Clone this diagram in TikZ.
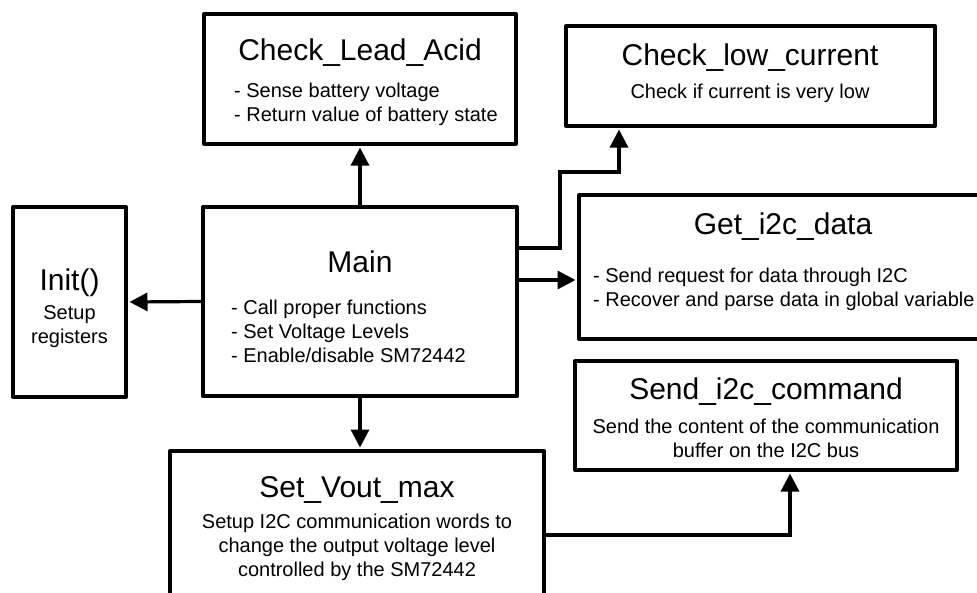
\documentclass[tikz,border=0pt]{standalone}
\usepackage{fontspec}
\setmainfont{Liberation Sans}
\usetikzlibrary{arrows.meta}
\begin{document}
\begin{tikzpicture}[x=1pt,y=-1pt,
  box/.style={draw, line width=4pt, line join=round, inner sep=0pt},
  ttl/.style={font=\fontsize{30}{34}\selectfont, inner sep=0pt},
  txt/.style={font=\fontsize{20}{24}\selectfont, inner sep=0pt, align=center},
  txtl/.style={font=\fontsize{20}{24}\selectfont, inner sep=0pt, align=left, anchor=west},
  conn/.style={line width=3.2pt, shorten >=1.5pt, -{Triangle[length=18pt,width=18pt]}}]
\clip (0,0) rectangle (977,592);
\fill[white] (0,0) rectangle (977,592);
% boxes
\node[box, minimum width=312pt, minimum height=130pt] (cla) at (360,79) {};
\node[box, minimum width=369pt, minimum height=100pt] (clc) at (750.5,76) {};
\node[box, minimum width=411pt, minimum height=144pt] (gid) at (784.5,267) {};
\node[box, minimum width=113pt, minimum height=190pt] (init) at (69.5,302) {};
\node[box, minimum width=314pt, minimum height=189pt] (main) at (360,301.5) {};
\node[box, minimum width=382pt, minimum height=109pt] (sic) at (766,415.5) {};
\node[box, minimum width=374pt, minimum height=159pt] (svm) at (357,530.5) {};
% texts
\node[ttl] (claT) at (360,53) {Check\_Lead\_Acid};
\node[txtl] (claB) at (234,104) {- Sense battery voltage\\- Return value of battery state};
\node[ttl] (clcT) at (750,58) {Check\_low\_current};
\node[txt] (clcB) at (750,93) {Check if current is very low};
\node[ttl] (gidT) at (783,227) {Get\_i2c\_data};
\node[txtl] (gidB) at (593,289.5) {- Send request for data through I2C\\- Recover and parse data in global variable};
\node[ttl] (initT) at (69.5,283) {Init()};
\node[txt] (initB) at (69.5,326.5) {Setup\\registers};
\node[ttl] (mainT) at (360,262) {Main};
\node[txtl] (mainB) at (231,331.5) {- Call proper functions\\- Set Voltage Levels\\- Enable/disable SM72442};
\node[ttl] (sicT) at (766,392) {Send\_i2c\_command};
\node[txt] (sicB) at (766,438.5) {Send the content of the communication\\buffer on the I2C bus};
\node[ttl] (svmT) at (357,490) {Set\_Vout\_max};
\node[txt] (svmB) at (357,547.5) {Setup I2C communication words to\\change the output voltage level\\controlled by the SM72442};
% connectors
\draw[conn] (main.west) -- (init.east);
\draw[conn] (main.north) -- (cla.south);
\draw[conn] (main.south) -- (main.south |- svm.north);
\draw[conn] ([yshift=21.5pt]main.east) -- ([yshift=21.5pt]main.east -| gid.west);
\coordinate (b1) at (560,172);
\draw[conn] ([yshift=53.5pt]main.east) -| (b1) -| ([xshift=-131.5pt]clc.south);
\draw[conn] ([yshift=-4.5pt]svm.east) -| ([xshift=24pt]sic.south);
\end{tikzpicture}
\end{document}
